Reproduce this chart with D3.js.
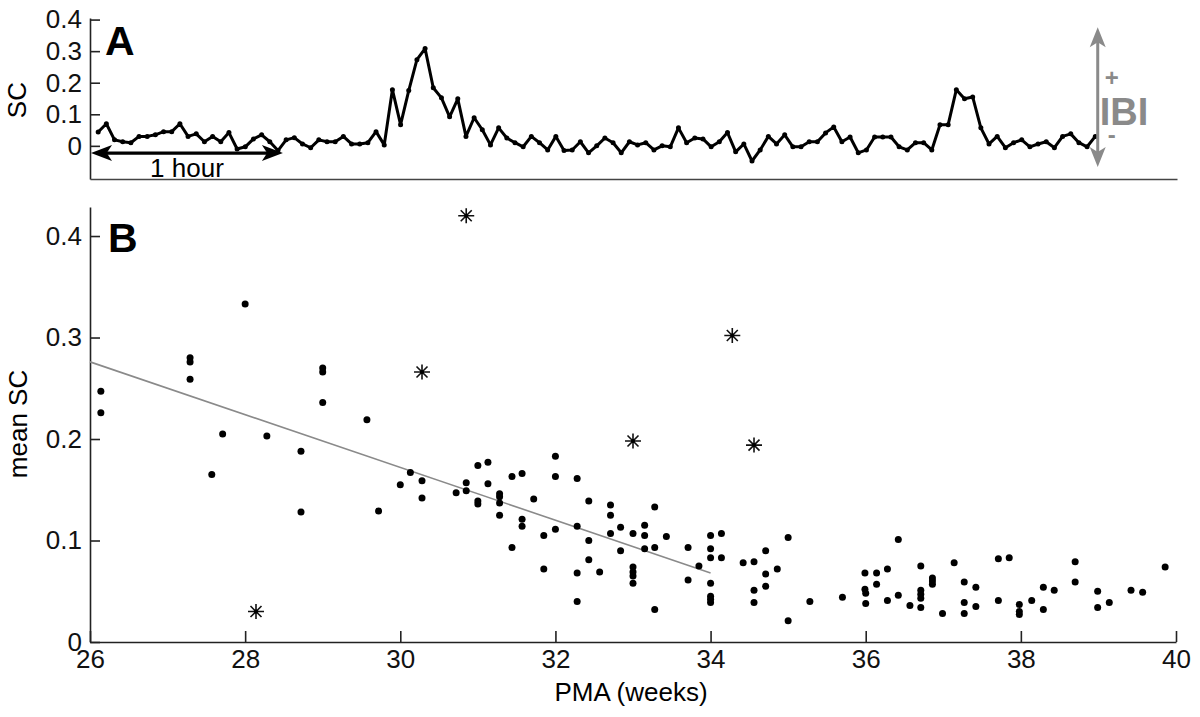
<!DOCTYPE html>
<html>
<head>
<meta charset="utf-8">
<script src="https://cdn.jsdelivr.net/npm/d3@7"></script>
<style>
  body { margin: 0; background: #fff; }
  svg { display: block; font-family: "Liberation Sans", Arial, sans-serif; }
</style>
</head>
<body>
<div id="chart"></div>
<script>
// Panel A: SC trace, one value per sample
const traceSC = [
  0.044, 0.07, 0.019, 0.013, 0.01, 0.03, 0.03, 0.035, 0.045, 0.045,
  0.07, 0.03, 0.038, 0.013, 0.03, 0.013, 0.042, -0.01, -0.003, 0.022,
  0.035, 0.013, -0.015, 0.019, 0.026, 0.006, -0.006, 0.019, 0.013, 0.013,
  0.03, 0.006, 0.006, 0.01, 0.045, 0.003, 0.178, 0.067, 0.175, 0.273,
  0.308, 0.184, 0.152, 0.092, 0.149, 0.03, 0.089, 0.051, 0.003, 0.057,
  0.025, 0.01, -0.003, 0.03, 0.01, -0.013, 0.03, -0.015, -0.013, 0.013,
  -0.022, 0, 0.025, 0.01, -0.022, 0.013, 0.003, 0.01, -0.013, 0,
  -0.003, 0.057, 0.01, 0.025, 0.022, -0.003, 0.013, 0.042, -0.019, 0.006,
  -0.048, -0.013, 0.03, 0.006, 0.035, -0.003, -0.003, 0.013, 0.013, 0.041,
  0.06, 0.013, 0.028, -0.022, -0.013, 0.028, 0.028, 0.028, -0.003, -0.013,
  0.01, 0.01, -0.013, 0.067, 0.067, 0.178, 0.149, 0.155, 0.057, 0.006,
  0.03, -0.006, 0.01, 0.019, -0.003, 0.006, 0.013, -0.006, 0.03, 0.038,
  0.01, -0.003, 0.03
];
const samplesPerHour = 23.6;
const traceTicks = [0, 0.1, 0.2, 0.3, 0.4];

// Panel B: mean SC against PMA
const dotPMA = [
  26.14, 26.14, 27.29, 27.29, 27.29, 28.0, 27.71, 28.28, 29.0, 29.0,
  29.0, 29.57, 28.72, 27.57, 28.72, 29.72, 30.0, 30.13, 30.28, 30.28,
  30.72, 30.85, 30.85, 31.0, 31.13, 31.0, 31.0, 31.13, 31.28, 31.28,
  31.28, 31.28, 31.44, 31.57, 31.57, 31.57, 31.44, 31.72, 31.85, 31.85,
  32.0, 32.0, 32.0, 32.28, 32.28, 32.28, 32.28, 32.43, 32.43, 32.43,
  32.57, 32.71, 32.71, 32.71, 32.84, 32.84, 33.0, 33.0, 33.0, 33.0,
  33.0, 33.15, 33.15, 33.15, 33.28, 33.28, 33.28, 33.43, 33.71, 33.71,
  33.85, 34.0, 34.0, 34.0, 34.0, 34.0, 34.0, 34.0, 34.14, 34.14,
  34.42, 34.56, 34.56, 34.56, 34.71, 34.71, 34.71, 34.86, 35.0, 35.0,
  35.28, 35.7, 35.99, 35.99, 36.0, 36.0, 36.14, 36.14, 36.28, 36.28,
  36.42, 36.42, 36.57, 36.71, 36.71, 36.71, 36.71, 36.71, 36.86, 36.86,
  36.86, 36.99, 37.14, 37.27, 37.27, 37.27, 37.42, 37.42, 37.71, 37.71,
  37.85, 37.98, 37.98, 37.98, 38.14, 38.29, 38.29, 38.43, 38.7, 38.7,
  38.99, 38.99, 39.14, 39.42, 39.57, 39.86
];
const dotSC = [
  0.247, 0.226, 0.280, 0.276, 0.259, 0.333, 0.205, 0.203, 0.270, 0.266,
  0.236, 0.219, 0.188, 0.165, 0.128, 0.129, 0.155, 0.167, 0.159, 0.142,
  0.147, 0.157, 0.149, 0.174, 0.177, 0.139, 0.136, 0.156, 0.146, 0.143,
  0.137, 0.125, 0.163, 0.166, 0.121, 0.114, 0.093, 0.141, 0.105, 0.072,
  0.183, 0.163, 0.111, 0.161, 0.114, 0.068, 0.040, 0.139, 0.100, 0.081,
  0.069, 0.135, 0.125, 0.107, 0.113, 0.090, 0.107, 0.074, 0.069, 0.065,
  0.058, 0.115, 0.105, 0.092, 0.133, 0.093, 0.032, 0.104, 0.093, 0.061,
  0.075, 0.105, 0.092, 0.083, 0.058, 0.045, 0.042, 0.039, 0.107, 0.083,
  0.078, 0.079, 0.051, 0.039, 0.090, 0.067, 0.055, 0.072, 0.103, 0.021,
  0.040, 0.044, 0.068, 0.052, 0.048, 0.038, 0.068, 0.057, 0.072, 0.041,
  0.101, 0.046, 0.036, 0.075, 0.051, 0.047, 0.043, 0.034, 0.063, 0.060,
  0.057, 0.028, 0.078, 0.059, 0.039, 0.028, 0.054, 0.035, 0.082, 0.041,
  0.083, 0.037, 0.030, 0.027, 0.041, 0.054, 0.032, 0.051, 0.079, 0.059,
  0.050, 0.034, 0.039, 0.051, 0.049, 0.074
];
// outliers drawn as asterisks
const starPMA = [28.14, 30.85, 30.28, 34.28, 33.0, 34.56];
const starSC = [0.030, 0.420, 0.266, 0.302, 0.198, 0.194];
// regression line end points
const fitPMA = [26, 34];
const fitSC = [0.276, 0.068];

const pmaTicks = [26, 28, 30, 32, 34, 36, 38, 40];
const meanTicks = [0, 0.1, 0.2, 0.3, 0.4];

const width = 1200;
const height = 717;
const fontSize = 26;
const grey = "#8a8a8a";

const svg = d3.select("#chart")
  .append("svg")
  .attr("width", width)
  .attr("height", height)
  .attr("viewBox", [0, 0, width, height]);

svg.append("rect").attr("width", width).attr("height", height).attr("fill", "#fff");

// ---------- panel A ----------
const xA = d3.scaleLinear().domain([-1, 132]).range([90, 1177]);
const yA = d3.scaleLinear().domain([-0.105, 0.405]).range([179, 18]);

const gA = svg.append("g");

gA.append("g")
  .attr("transform", "translate(90,0)")
  .call(d3.axisLeft(yA).tickValues(traceTicks).tickSize(-10).tickSizeOuter(0).tickPadding(8)
    .tickFormat((d) => (d === 0 ? "0" : d3.format(".1f")(d))))
  .call((g) => g.selectAll("text").attr("font-size", fontSize).attr("font-family", null).attr("fill", "#111"))
  .call((g) => g.selectAll("line, path").attr("stroke", "#222").attr("stroke-width", 1.6));

gA.append("g")
  .attr("transform", "translate(0,179)")
  .call(d3.axisBottom(xA).tickValues([]).tickSizeOuter(0))
  .call((g) => g.select("path").attr("stroke", "#444").attr("stroke-width", 1.6));

const line = d3.line().x((d, i) => xA(i)).y((d) => yA(d));

gA.append("path")
  .datum(traceSC)
  .attr("fill", "none")
  .attr("stroke", "#000")
  .attr("stroke-width", 3)
  .attr("stroke-linejoin", "round")
  .attr("d", line);

gA.append("g")
  .selectAll("circle")
  .data(traceSC)
  .join("circle")
  .attr("cx", (d, i) => xA(i))
  .attr("cy", (d) => yA(d))
  .attr("r", 2.5)
  .attr("fill", "#000");

gA.append("text")
  .attr("x", 105)
  .attr("y", 55)
  .attr("font-size", 41)
  .attr("font-weight", "bold")
  .text("A");

gA.append("text")
  .attr("transform", `translate(26,${yA(0.145)}) rotate(-90)`)
  .attr("text-anchor", "middle")
  .attr("font-size", fontSize)
  .text("SC");

function arrowHead(g, x, y, angle, len, half, color) {
  g.append("path")
    .attr("transform", `translate(${x},${y}) rotate(${angle})`)
    .attr("d", `M0,0 L${-len},${-half} L${-len * 0.75},0 L${-len},${half} Z`)
    .attr("fill", color);
}

// 1 hour double arrow
const hourY = yA(-0.023);
const hx0 = xA(-1) + 1;
const hx1 = xA(-1 + samplesPerHour);
gA.append("line")
  .attr("x1", hx0 + 8).attr("x2", hx1 - 8)
  .attr("y1", hourY).attr("y2", hourY)
  .attr("stroke", "#000").attr("stroke-width", 3.4);
arrowHead(gA, hx0, hourY, 180, 21, 8, "#000");
arrowHead(gA, hx1, hourY, 0, 21, 8, "#000");

gA.append("text")
  .attr("x", (hx0 + hx1) / 2)
  .attr("y", 177)
  .attr("text-anchor", "middle")
  .attr("font-size", fontSize)
  .text("1 hour");

// IBI double arrow
const ibiX = xA(122.3);
const ibiTop = yA(0.376);
const ibiBot = yA(-0.067);
gA.append("line")
  .attr("x1", ibiX).attr("x2", ibiX)
  .attr("y1", ibiTop + 8).attr("y2", ibiBot - 8)
  .attr("stroke", grey).attr("stroke-width", 3);
arrowHead(gA, ibiX, ibiTop, -90, 20, 8, grey);
arrowHead(gA, ibiX, ibiBot, 90, 20, 8, grey);

gA.append("text")
  .attr("x", ibiX + 2)
  .attr("y", 125)
  .attr("font-size", 38)
  .attr("font-weight", "bold")
  .attr("fill", grey)
  .text("IBI");
gA.append("text")
  .attr("x", ibiX + 14)
  .attr("y", 86)
  .attr("text-anchor", "middle")
  .attr("font-size", 24)
  .attr("font-weight", "bold")
  .attr("fill", grey)
  .text("+");
gA.append("text")
  .attr("x", ibiX + 14)
  .attr("y", 143)
  .attr("text-anchor", "middle")
  .attr("font-size", 24)
  .attr("font-weight", "bold")
  .attr("fill", grey)
  .text("-");

// ---------- panel B ----------
const xB = d3.scaleLinear().domain([26, 40]).range([90, 1176]);
const yB = d3.scaleLinear().domain([0, 0.4286]).range([642, 207]);

const gB = svg.append("g");

gB.append("g")
  .attr("transform", "translate(0,642)")
  .call(d3.axisBottom(xB).tickValues(pmaTicks).tickSize(-11).tickSizeOuter(0).tickPadding(8)
    .tickFormat(d3.format("d")))
  .call((g) => g.selectAll("text").attr("font-size", fontSize).attr("font-family", null).attr("fill", "#111"))
  .call((g) => g.selectAll("line, path").attr("stroke", "#222").attr("stroke-width", 1.6));

gB.append("g")
  .attr("transform", "translate(90,0)")
  .call(d3.axisLeft(yB).tickValues(meanTicks).tickSize(-10).tickSizeOuter(0).tickPadding(8)
    .tickFormat((d) => (d === 0 ? "0" : d3.format(".1f")(d))))
  .call((g) => g.selectAll("text").attr("font-size", fontSize).attr("font-family", null).attr("fill", "#111"))
  .call((g) => g.selectAll("line, path").attr("stroke", "#222").attr("stroke-width", 1.6));

const fit = fitPMA.map((p, i) => [p, fitSC[i]]);
gB.append("path")
  .datum(fit)
  .attr("fill", "none")
  .attr("stroke", grey)
  .attr("stroke-width", 1.6)
  .attr("d", d3.line().x((d) => xB(d[0])).y((d) => yB(d[1])));

gB.append("g")
  .selectAll("circle")
  .data(dotPMA.map((p, i) => [p, dotSC[i]]))
  .join("circle")
  .attr("cx", (d) => xB(d[0]))
  .attr("cy", (d) => yB(d[1]))
  .attr("r", 3.5)
  .attr("fill", "#000");

const star = "M-8,0H8M0,-7.5V7.5M-5.5,-5.5L5.5,5.5M-5.5,5.5L5.5,-5.5";
const stars = gB.append("g")
  .selectAll("g")
  .data(starPMA.map((p, i) => [p, starSC[i]]))
  .join("g")
  .attr("transform", (d) => `translate(${xB(d[0])},${yB(d[1])})`);
stars.append("path").attr("d", star).attr("stroke", "#111").attr("stroke-width", 1.6).attr("fill", "none");
stars.append("circle").attr("r", 2).attr("fill", "#000");

gB.append("text")
  .attr("x", 108)
  .attr("y", 252)
  .attr("font-size", 41)
  .attr("font-weight", "bold")
  .text("B");

gB.append("text")
  .attr("transform", `translate(27,424) rotate(-90)`)
  .attr("text-anchor", "middle")
  .attr("font-size", fontSize)
  .text("mean SC");

gB.append("text")
  .attr("x", 631)
  .attr("y", 701)
  .attr("text-anchor", "middle")
  .attr("font-size", fontSize)
  .text("PMA (weeks)");
</script>
</body>
</html>
